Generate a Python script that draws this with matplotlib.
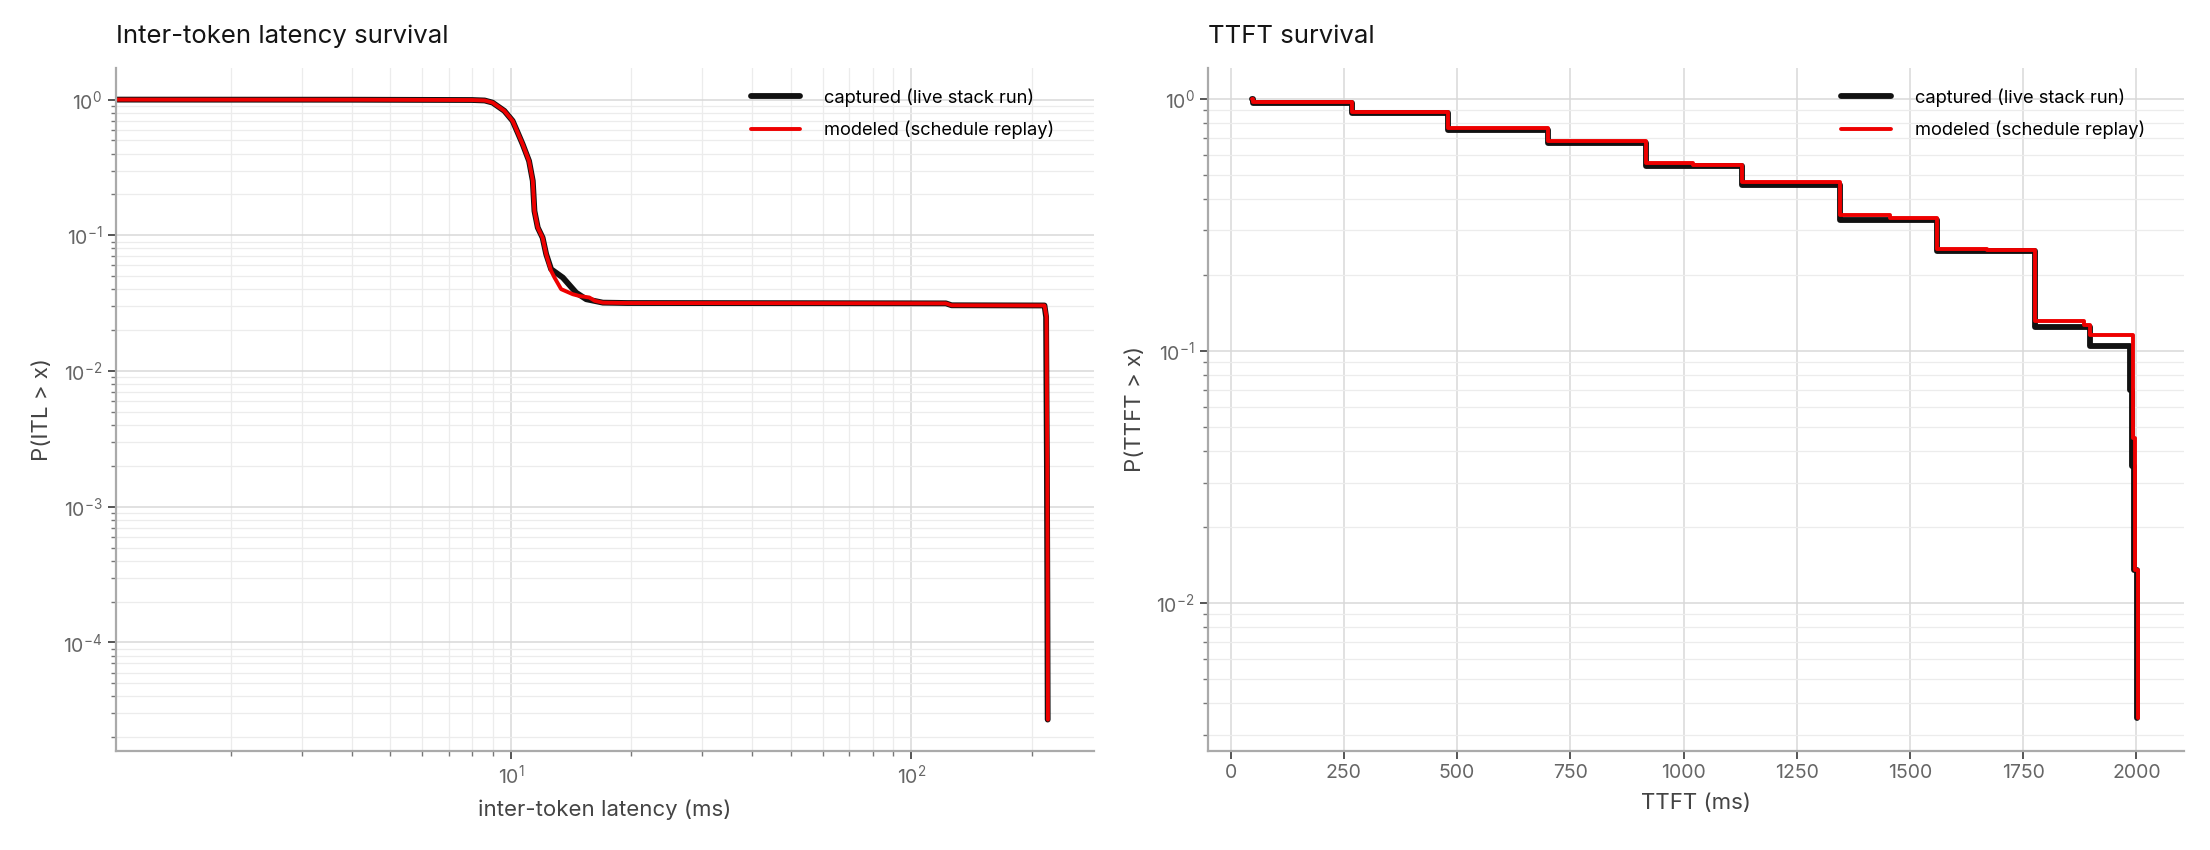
import matplotlib
matplotlib.use("Agg")
import matplotlib.pyplot as plt
from matplotlib.ticker import LogLocator, NullFormatter

plt.rcParams['font.family'] = ['Inter', 'DejaVu Sans']
plt.rcParams['mathtext.default'] = 'regular'

# inter-token latency survival (ms, P(ITL > x))
itl_cap_x = [1.0, 4.0, 8.0, 8.6, 9.0, 9.63, 10.1, 10.4, 10.7, 11.1, 11.34, 11.45, 11.67, 12.0, 12.25,
             12.6, 13.48, 14.55, 15.42, 16.97, 19.5, 60, 122, 126, 215, 217, 218, 218.6, 219]
itl_cap_y = [1.0, 0.998, 0.993, 0.985, 0.95, 0.826, 0.697, 0.571, 0.469, 0.353, 0.252, 0.151, 0.114, 0.096, 0.0725,
             0.0563, 0.0488, 0.0378, 0.0338, 0.0319, 0.0317, 0.0316, 0.0315, 0.0305, 0.0304, 0.025, 0.002, 0.0002, 2.7e-5]

itl_mod_x = [1.0, 4.0, 8.0, 8.6, 9.0, 9.63, 10.1, 10.4, 10.7, 11.1, 11.34, 11.45, 11.67, 12.0, 12.25,
             12.6, 12.85, 13.35, 14.27, 14.83, 15.7, 16.2, 16.97, 19.5, 60, 122, 126, 215, 217.5, 218.5, 219, 219.3]
itl_mod_y = [1.0, 0.998, 0.993, 0.985, 0.95, 0.826, 0.697, 0.571, 0.469, 0.353, 0.252, 0.151, 0.114, 0.096, 0.0725,
             0.0547, 0.0488, 0.0401, 0.0368, 0.0357, 0.0348, 0.0329, 0.0319, 0.0317, 0.0316, 0.0315, 0.0305, 0.0304, 0.025, 0.002, 0.0002, 2.7e-5]

# TTFT survival (ms, P(TTFT > x)) as step points
ttft_cap_x = [48, 50, 268, 481, 700, 917, 1130, 1345, 1560, 1777, 1897, 1987, 1990, 1995, 2002]
ttft_cap_y = [1.0, 0.96, 0.873, 0.750, 0.669, 0.541, 0.455, 0.331, 0.248, 0.1247, 0.104, 0.07, 0.035, 0.0135, 0.0035]

ttft_mod_x = [48, 50, 268, 481, 700, 917, 1021, 1130, 1345, 1455, 1560, 1671, 1777, 1885, 1897, 1992, 1997, 2004]
ttft_mod_y = [1.0, 0.97, 0.884, 0.762, 0.679, 0.554, 0.545, 0.465, 0.344, 0.335, 0.254, 0.250, 0.1316, 0.126, 0.1156, 0.045, 0.0135, 0.0035]

cap_color = '#111111'
mod_color = '#ee0000'

fig = plt.figure(figsize=(22.1, 8.5), dpi=100)
ax1 = fig.add_axes([0.0523, 0.1165, 0.4425, 0.804])
ax2 = fig.add_axes([0.5466, 0.1165, 0.4416, 0.804])

def style(ax):
    for s in ['top', 'right']:
        ax.spines[s].set_visible(False)
    for s in ['left', 'bottom']:
        ax.spines[s].set_color('#aaaaaa')
        ax.spines[s].set_linewidth(1.6)
    ax.tick_params(which='major', colors='#555555', labelcolor='#666666', labelsize=14, length=6, width=1.4)
    ax.tick_params(which='minor', colors='#777777', length=3.5, width=1)
    ax.set_axisbelow(True)

def add_legend(ax):
    ax.legend(loc='upper right', bbox_to_anchor=(0.977, 0.994), frameon=False,
              fontsize=13.2, handlelength=2.7, handletextpad=1.3, labelspacing=0.75)

ax1.plot(itl_cap_x, itl_cap_y, color=cap_color, lw=4.2, solid_capstyle='round', solid_joinstyle='round',
         label='captured (live stack run)')
ax1.plot(itl_mod_x, itl_mod_y, color=mod_color, lw=2.8, solid_capstyle='round', solid_joinstyle='round',
         label='modeled (schedule replay)')
ax1.set_xscale('log')
ax1.set_yscale('log')
ax1.set_xlim(1.03, 285)
ax1.set_ylim(10 ** -4.8, 10 ** 0.236)
ax1.xaxis.set_minor_locator(LogLocator(base=10, subs=range(2, 10)))
ax1.xaxis.set_minor_formatter(NullFormatter())
ax1.yaxis.set_minor_locator(LogLocator(base=10, subs=range(2, 10)))
ax1.yaxis.set_minor_formatter(NullFormatter())
ax1.grid(which='major', color='#d8d8d8', lw=1.1)
ax1.grid(which='minor', color='#ececec', lw=0.9)
style(ax1)
ax1.set_title('Inter-token latency survival', loc='left', fontsize=18.5, color='#151515', pad=18)
ax1.set_xlabel('inter-token latency (ms)', fontsize=16, color='#444444', labelpad=8)
ax1.set_ylabel('P(ITL > x)', fontsize=16, color='#444444', labelpad=8)
add_legend(ax1)

ax2.step(ttft_cap_x, ttft_cap_y, where='post', color=cap_color, lw=4.2, solid_capstyle='round',
         solid_joinstyle='round', label='captured (live stack run)')
ax2.step(ttft_mod_x, ttft_mod_y, where='post', color=mod_color, lw=2.8, solid_capstyle='round',
         solid_joinstyle='round', label='modeled (schedule replay)')
ax2.set_yscale('log')
ax2.set_xlim(-50, 2105)
ax2.set_ylim(10 ** -2.587, 10 ** 0.123)
ax2.set_xticks(range(0, 2001, 250))
ax2.yaxis.set_minor_locator(LogLocator(base=10, subs=range(2, 10)))
ax2.yaxis.set_minor_formatter(NullFormatter())
ax2.grid(which='major', color='#d8d8d8', lw=1.1)
ax2.grid(which='minor', axis='y', color='#ececec', lw=0.9)
style(ax2)
ax2.set_title('TTFT survival', loc='left', fontsize=18.5, color='#151515', pad=18)
ax2.set_xlabel('TTFT (ms)', fontsize=16, color='#444444', labelpad=8)
ax2.set_ylabel('P(TTFT > x)', fontsize=16, color='#444444', labelpad=8)
add_legend(ax2)

fig.savefig('out.png', dpi=100)
